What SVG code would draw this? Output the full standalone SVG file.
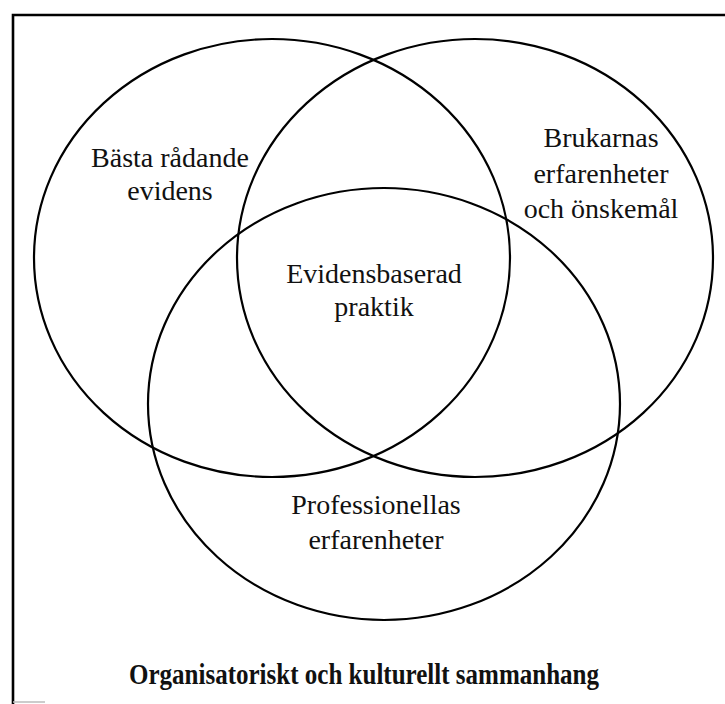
<svg xmlns="http://www.w3.org/2000/svg" width="725" height="704" viewBox="0 0 725 704">
<style>
.ring{fill:none;stroke:#000;stroke-width:2.2}
.lbl{font-family:"Liberation Serif","DejaVu Serif",serif;font-size:28px;fill:#111;text-anchor:middle}
.ttl{font-family:"Liberation Serif","DejaVu Serif",serif;font-size:29px;font-weight:bold;fill:#111;text-anchor:middle}
</style>
<rect width="725" height="704" fill="#fff"/>
<g id="frame">
<path d="M13,704 L13,15 L725,15" fill="none" stroke="#000" stroke-width="2.6"/>
<path d="M13,702 L45,702" fill="none" stroke="#bbb" stroke-width="1.5"/>
</g>
<g id="best-evidence">
<ellipse class="ring" cx="272" cy="258" rx="238" ry="219"/>
<text class="lbl" x="170" y="167">Bästa rådande</text>
<text class="lbl" x="170" y="200">evidens</text>
</g>
<g id="users">
<ellipse class="ring" cx="475" cy="258" rx="238" ry="219"/>
<text class="lbl" x="601" y="147">Brukarnas</text>
<text class="lbl" x="601" y="183">erfarenheter</text>
<text class="lbl" x="601" y="218">och önskemål</text>
</g>
<g id="professionals">
<ellipse class="ring" cx="384" cy="404" rx="236" ry="216"/>
<text class="lbl" x="376" y="514">Professionellas</text>
<text class="lbl" x="376" y="549">erfarenheter</text>
</g>
<g id="ebp">
<text class="lbl" x="374" y="283">Evidensbaserad</text>
<text class="lbl" x="374" y="316">praktik</text>
</g>
<g id="context">
<text class="ttl" x="364" y="684" textLength="470" lengthAdjust="spacingAndGlyphs">Organisatoriskt och kulturellt sammanhang</text>
</g>
<g id="connectors"/>
</svg>
